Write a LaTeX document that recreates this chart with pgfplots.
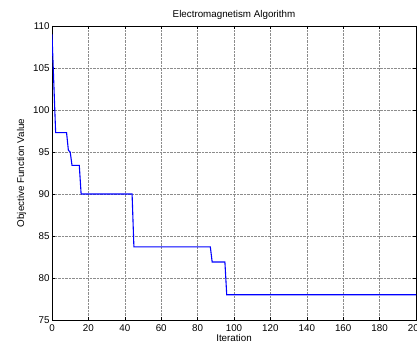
\documentclass[border=0pt]{standalone}
\usepackage{pgfplots}
\pgfplotsset{compat=1.18}
\usepackage{fontspec}
\setmainfont{Liberation Sans}
\begin{document}
\begin{tikzpicture}[x=1pt,y=1pt]
\useasboundingbox (-52pt,-27pt) rectangle (365pt,320pt);
\begin{axis}[
  at={(0,0)}, anchor=south west,
  scale only axis,
  width=364pt, height=294pt,
  xmin=0, xmax=200, ymin=75, ymax=110,
  xtick={0,20,...,200}, ytick={75,80,...,110},
  tick align=inside,
  major tick length=3pt,
  xtick pos=both, ytick pos=both,
  grid=major,
  major grid style={densely dotted, black!45, line width=0.4pt},
  axis line style={black, line width=0.8pt},
  tick style={black, line width=0.5pt},
  /pgf/number format/assume math mode=true,
  ticklabel style={font=\fontsize{9.8}{10}\selectfont},
  xticklabel style={yshift=-1pt},
  yticklabel style={xshift=1pt},
  title={Electromagnetism Algorithm},
  title style={font=\fontsize{9.8}{10}\selectfont, yshift=-3pt},
  xlabel={Iteration},
  ylabel={Objective Function Value},
  label style={font=\fontsize{9.8}{10}\selectfont},
  xlabel style={yshift=4pt},
  ylabel style={yshift=0pt},
]
\addplot[blue, line width=1.1pt] coordinates {
(0,109) (2,97.3) (8,97.3) (9,95.2) (10,95.0) (11,93.4) (15,93.4) (16,90)
(44,90) (45,83.7) (87,83.7) (88,81.9) (95,81.9) (96,78) (200,78)
};
\end{axis}
\end{tikzpicture}
\end{document}
